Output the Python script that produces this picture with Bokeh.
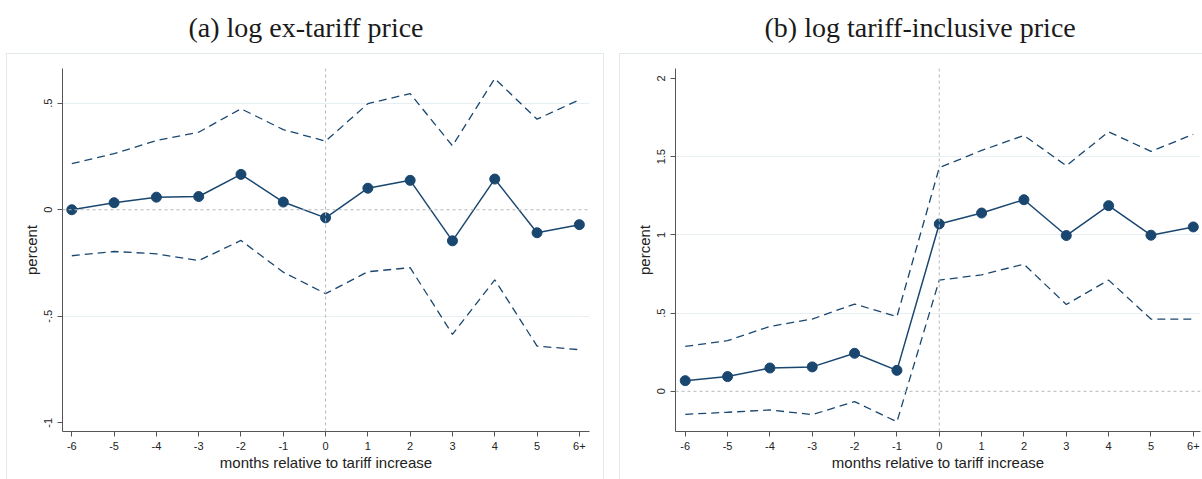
from bokeh.plotting import figure
from bokeh.layouts import row, column
from bokeh.models import FixedTicker, Span, Spacer
from bokeh.embed import file_html
from bokeh.resources import INLINE

# ---- data ----
months = ["-6", "-5", "-4", "-3", "-2", "-1", "0", "1", "2", "3", "4", "5", "6+"]
xpos = [int(m.rstrip("+")) for m in months]

coef_a = [0.000, 0.033, 0.059, 0.062, 0.166, 0.036, -0.038, 0.101, 0.138, -0.146, 0.144, -0.108, -0.070]
hi_a = [0.216, 0.263, 0.325, 0.364, 0.474, 0.376, 0.322, 0.498, 0.545, 0.300, 0.616, 0.425, 0.516]
lo_a = [-0.216, -0.196, -0.207, -0.239, -0.144, -0.293, -0.394, -0.291, -0.272, -0.585, -0.329, -0.640, -0.657]

coef_b = [0.068, 0.094, 0.149, 0.156, 0.243, 0.134, 1.070, 1.140, 1.225, 0.996, 1.187, 0.998, 1.051]
hi_b = [0.287, 0.324, 0.415, 0.462, 0.558, 0.477, 1.430, 1.540, 1.636, 1.442, 1.659, 1.534, 1.643]
lo_b = [-0.147, -0.134, -0.119, -0.149, -0.066, -0.195, 0.711, 0.745, 0.813, 0.555, 0.711, 0.462, 0.462]

yticks_a = [-1, -0.5, 0, 0.5]
ylabels_a = ["-1", "-.5", "0", ".5"]
yticks_b = [0, 0.5, 1, 1.5, 2]
ylabels_b = ["0", ".5", "1", "1.5", "2"]

title_a = "(a) log ex-tariff price"
title_b = "(b) log tariff-inclusive price"
xlabel = "months relative to tariff increase"
ylabel = "percent"

NAVY = "#1a476f"
AXIS = "#555555"
GRID = "#e8eff2"
BOX = "#e1e9ec"
ZERO = "#b8b8b8"


def title_fig(text, width, bl, br, offset):
    t = figure(width=width, height=53, title=text, output_backend="svg",
               toolbar_location=None, x_axis_location=None, y_axis_location=None,
               min_border_left=bl, min_border_right=br, min_border_top=0,
               min_border_bottom=0)
    t.outline_line_color = None
    t.grid.visible = False
    t.border_fill_color = None
    t.background_fill_color = None
    t.title.align = "left"
    t.title.offset = offset
    t.title.text_font = "Liberation Serif"
    t.title.text_font_size = "28px"
    t.title.text_font_style = "normal"
    t.title.text_color = "#1a1a1a"
    t.title.standoff = 18
    return t


def make_panel(coef, hi, lo, yticks, ylabels, grid_ticks, yr, xr, width, bl, br,
               box_css):
    p = figure(width=width, height=426, x_range=xr, y_range=yr,
               output_backend="svg", toolbar_location=None,
               min_border_left=bl, min_border_right=br,
               min_border_top=15, min_border_bottom=48)
    p.outline_line_color = None
    p.background_fill_color = None
    p.border_fill_color = None
    p.styles = {"box-shadow": box_css}

    for ax in (p.xaxis, p.yaxis):
        ax.axis_line_color = AXIS
        ax.major_tick_line_color = AXIS
        ax.minor_tick_line_color = None
        ax.major_tick_in = 0
        ax.major_tick_out = 5
        ax.major_label_text_font = "Liberation Sans"
        ax.major_label_text_font_size = "11px"
        ax.major_label_text_color = "#222222"
        ax.axis_label_text_font = "Liberation Sans"
        ax.axis_label_text_font_size = "15px"
        ax.axis_label_text_font_style = "normal"
        ax.axis_label_text_color = "#222222"

    p.xaxis.ticker = FixedTicker(ticks=xpos)
    p.xaxis.major_label_overrides = {x: m for x, m in zip(xpos, months)}
    p.xaxis.axis_label = xlabel
    p.xaxis.major_label_standoff = 5
    p.xaxis.axis_label_standoff = 1

    p.yaxis.ticker = FixedTicker(ticks=yticks)
    p.yaxis.major_label_overrides = {t: l for t, l in zip(yticks, ylabels)}
    p.yaxis.major_label_orientation = "vertical"
    p.yaxis.axis_label = ylabel
    p.yaxis.major_label_standoff = 5
    p.yaxis.axis_label_standoff = 2

    p.xgrid.visible = False
    p.ygrid.ticker = FixedTicker(ticks=grid_ticks)
    p.ygrid.grid_line_color = GRID
    p.ygrid.grid_line_width = 1

    p.add_layout(Span(location=0, dimension="width", line_color=ZERO,
                      line_dash="3 3", line_width=1))
    p.add_layout(Span(location=0, dimension="height", line_color=ZERO,
                      line_dash="3 3", line_width=1))

    p.line(xpos, hi, line_color=NAVY, line_width=1.3, line_dash="8 5")
    p.line(xpos, lo, line_color=NAVY, line_width=1.3, line_dash="8 5")
    p.line(xpos, coef, line_color=NAVY, line_width=1.5)
    p.scatter(xpos, coef, size=10, fill_color=NAVY, line_color=NAVY)
    return p


box_a = f"inset 1px 1px 0 0 {BOX}, inset -1px 0 0 0 {BOX}"
box_b = f"inset 1px 1px 0 0 {BOX}"

pa = make_panel(coef_a, hi_a, lo_a, yticks_a, ylabels_a, [-0.5, 0.5],
                (-1.041, 0.663), (-6.22, 6.24), 598, 56, 15, box_a)
pb = make_panel(coef_b, hi_b, lo_b, yticks_b, ylabels_b, [0.5, 1, 1.5],
                (-0.257, 2.064), (-6.23, 6.17), 583, 56, 2, box_b)

ta = title_fig(title_a, 598, 56, 15, 126)
tb = title_fig(title_b, 583, 56, 2, 89)

layout = row(Spacer(width=6, height=479), column(ta, pa, spacing=0),
             Spacer(width=15, height=479), column(tb, pb, spacing=0), spacing=0)
open("out.html", "w").write(file_html(layout, INLINE))
